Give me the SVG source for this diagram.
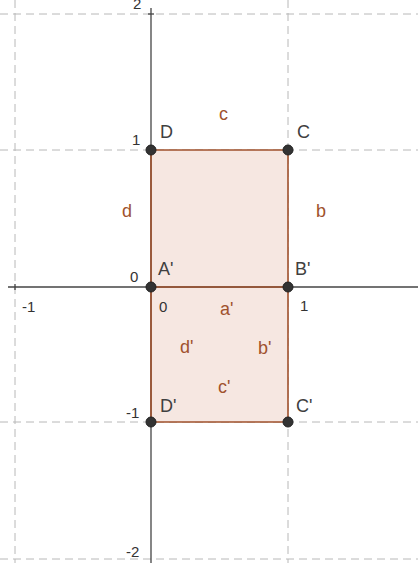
<svg xmlns="http://www.w3.org/2000/svg" width="418" height="563" viewBox="0 0 418 563">
<style>
.grid{stroke:#b8b8b8;stroke-width:1;stroke-dasharray:8,5;fill:none}
.axis{stroke:#444;stroke-width:1.3;fill:none}
.poly{fill:#f6e7e1;stroke:none}
.seg{stroke:#a0522d;stroke-width:1.6;fill:none}
.pt{fill:#333;stroke:#222;stroke-width:1}
.lbl{font-family:"Liberation Sans",Arial,sans-serif;font-size:18px;fill:#404040}
.num{font-family:"Liberation Sans",Arial,sans-serif;font-size:15px;fill:#333}
.sl{font-family:"Liberation Sans",Arial,sans-serif;font-size:18px;fill:#a0522d}
</style>
<rect width="418" height="563" fill="#fff"/>
<g id="grid">
<line class="grid" x1="0" y1="14" x2="418" y2="14"/>
<line class="grid" x1="0" y1="150" x2="418" y2="150"/>
<line class="grid" x1="0" y1="422" x2="418" y2="422"/>
<line class="grid" x1="0" y1="559" x2="418" y2="559"/>
<line class="grid" x1="15" y1="0" x2="15" y2="563"/>
<line class="grid" x1="288" y1="0" x2="288" y2="563"/>
</g>
<g id="polygons">
<rect class="poly" x="151" y="150" width="137" height="137"/>
<rect class="poly" x="151" y="287" width="137" height="135"/>
</g>
<g id="axes">
<line class="axis" x1="8" y1="287" x2="418" y2="287"/>
<line class="axis" x1="151" y1="8" x2="151" y2="563"/>
<line class="axis" x1="15" y1="284" x2="15" y2="290"/>
<line class="axis" x1="148" y1="14" x2="154" y2="14"/>
</g>
<g id="connectors">
<polyline class="seg" points="151,287 151,150 288,150 288,287 151,287"/>
<polyline class="seg" points="151,287 151,422 288,422 288,287"/>
</g>
<g id="ticklabels">
<text class="num" x="133" y="9">2</text>
<text class="num" x="132" y="145">1</text>
<text class="num" x="130" y="282">0</text>
<text class="num" x="22" y="312">-1</text>
<text class="num" x="159" y="312">0</text>
<text class="num" x="300" y="311">1</text>
<text class="num" x="126" y="418">-1</text>
<text class="num" x="126" y="557">-2</text>
</g>
<g id="seglabels">
<text class="sl" x="219" y="120">c</text>
<text class="sl" x="122" y="217">d</text>
<text class="sl" x="316" y="217">b</text>
<text class="sl" x="220" y="315">a'</text>
<text class="sl" x="180" y="353">d'</text>
<text class="sl" x="258" y="354">b'</text>
<text class="sl" x="218" y="393">c'</text>
</g>
<g id="A1"><circle class="pt" cx="151" cy="287" r="5"/><text class="lbl" x="158" y="275">A'</text></g>
<g id="B1"><circle class="pt" cx="288" cy="287" r="5"/><text class="lbl" x="295" y="275">B'</text></g>
<g id="C"><circle class="pt" cx="288" cy="150" r="5"/><text class="lbl" x="297" y="138">C</text></g>
<g id="D"><circle class="pt" cx="151" cy="150" r="5"/><text class="lbl" x="160" y="138">D</text></g>
<g id="C1"><circle class="pt" cx="288" cy="422" r="5"/><text class="lbl" x="296" y="412">C'</text></g>
<g id="D1"><circle class="pt" cx="151" cy="422" r="5"/><text class="lbl" x="160" y="412">D'</text></g>
</svg>
